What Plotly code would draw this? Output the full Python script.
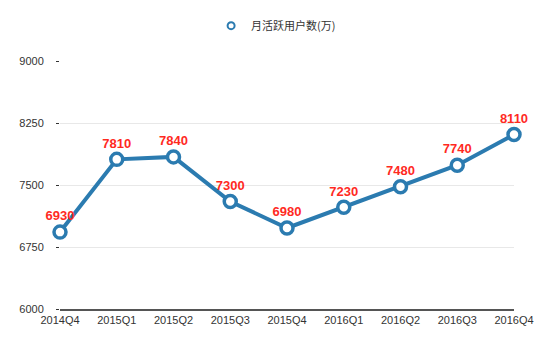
import plotly.graph_objects as go

quarters = ["2014Q4", "2015Q1", "2015Q2", "2015Q3", "2015Q4",
            "2016Q1", "2016Q2", "2016Q3", "2016Q4"]
active_users = [6930, 7810, 7840, 7300, 6980, 7230, 7480, 7740, 8110]
y_ticks = [6000, 6750, 7500, 8250, 9000]
series_name = "月活跃用户数(万)"

line_color = "#2b7bb0"

fig = go.Figure()
fig.add_trace(go.Scatter(
    x=list(range(len(quarters))),
    y=active_users,
    mode="lines+markers+text",
    name=series_name,
    showlegend=False,
    line=dict(color=line_color, width=4),
    marker=dict(symbol="circle", size=12, color="white",
                line=dict(color=line_color, width=3.5)),
    text=[str(v) for v in active_users],
    textposition="top center",
    textfont=dict(color="#ff2a1f", size=13, family="Liberation Sans, Arial", weight="bold"),
    cliponaxis=False,
))
# legend entry: small open circle only
fig.add_trace(go.Scatter(
    x=[None], y=[None], mode="markers", name=series_name,
    marker=dict(symbol="circle", size=7, color="white",
                line=dict(color=line_color, width=2)),
))

fig.update_layout(
    width=553, height=342,
    margin=dict(l=60, r=39, t=61, b=33),
    paper_bgcolor="white", plot_bgcolor="white",
    font=dict(family="Liberation Sans, Arial", size=11, color="#333"),
    showlegend=True,
    legend=dict(orientation="h", x=0.476, xanchor="center", y=0.925, yanchor="middle",
                yref="container", itemwidth=30,
                font=dict(size=11, color="#333", family="Noto Sans CJK SC, Liberation Sans")),
    xaxis=dict(
        range=[0, len(quarters) - 1],
        tickmode="array", tickvals=list(range(len(quarters))), ticktext=quarters,
        showgrid=False, zeroline=False,
        showline=True, linecolor="#555", linewidth=1.5,
        ticks="", tickfont=dict(size=11, color="#333"),
    ),
    yaxis=dict(
        range=[6000, 9000], tickvals=y_ticks,
        showgrid=True, gridcolor="#e8e8e8", gridwidth=1,
        zeroline=False, showline=False,
        ticks="outside", ticklen=3, tickcolor="#333", tickwidth=1,
        ticklabelstandoff=10,
        tickfont=dict(size=11, color="#333"),
    ),
)

fig.write_html("out.html")
